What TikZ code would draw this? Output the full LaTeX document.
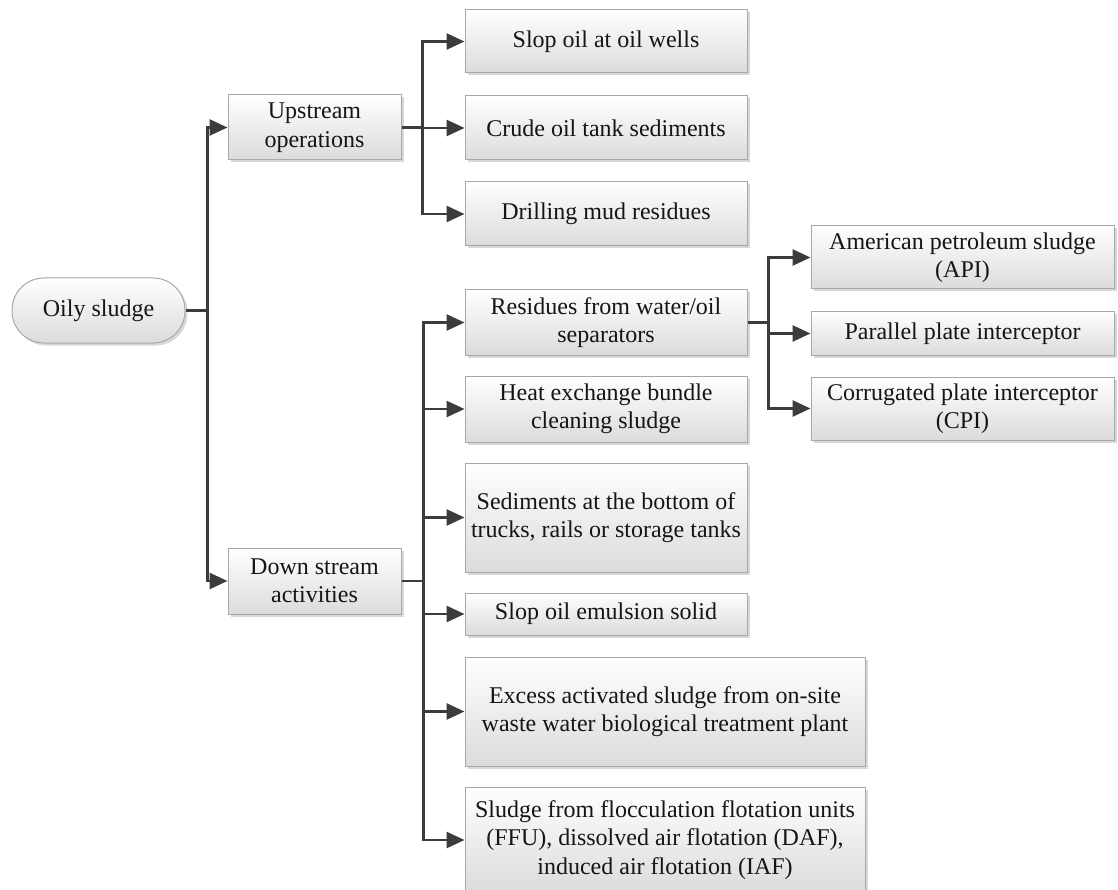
\documentclass[tikz,border=0pt]{standalone}
\usepackage{fontspec}
\setmainfont{Liberation Serif}
\usetikzlibrary{arrows.meta,shadows}
\definecolor{linecol}{HTML}{3C3C3C}
\definecolor{txtcol}{HTML}{151515}
\definecolor{bordercol}{HTML}{A8A8A8}
\tikzset{
  box/.style={draw=bordercol, line width=1pt, top color=white, bottom color=black!14,
    inner sep=0pt, align=center, text=txtcol,
    font=\fontsize{24}{28.5}\selectfont,
    drop shadow={shadow xshift=2.5pt, shadow yshift=-2.5pt, fill=black!30, opacity=0.5}},
  conn/.style={draw=linecol, line width=2.7pt},
  arr/.style={conn, -{Triangle[length=18pt,width=16pt]}},
}
\begin{document}
\begin{tikzpicture}[x=1pt,y=-1pt]
\clip (0,0) rectangle (1118,890);
\fill[white] (0,0) rectangle (1118,890);

% level 0
\node[box, rounded corners=32pt, minimum width=173pt, minimum height=65pt] (oily) at (98.5,310.5) {Oily sludge};

% level 1
\node[box, minimum width=173pt, minimum height=65pt] (up) at (314.5,127.5) {Upstream\\operations};
\node[box, minimum width=173pt, minimum height=66pt] (down) at (314.5,581) {Down stream\\activities};

% upstream children
\node[box, minimum width=282pt, minimum height=63pt] (slop) at (606,41.5) {Slop oil at oil wells};
\node[box, minimum width=282pt, minimum height=64pt] (crude) at (606,128) {Crude oil tank sediments};
\node[box, minimum width=282pt, minimum height=64pt] (drill) at (606,214) {Drilling mud residues};

% downstream children
\node[box, minimum width=282pt, minimum height=65pt] (resid) at (606,322.5) {Residues from water/oil\\separators};
\node[box, minimum width=282pt, minimum height=66pt] (heat) at (606,409) {Heat exchange bundle\\cleaning sludge};
\node[box, minimum width=282pt, minimum height=109pt] (sedi) at (606,517.5) {Sediments at the bottom of\\trucks, rails or storage tanks};
\node[box, minimum width=282pt, minimum height=42pt] (emul) at (606,614) {Slop oil emulsion solid};
\node[box, minimum width=400pt, minimum height=109pt] (excess) at (665,711.5) {Excess activated sludge from on-site\\waste water biological treatment plant};
\node[box, minimum width=400pt, minimum height=106pt] (ffu) at (665,840) {Sludge from flocculation flotation units\\(FFU), dissolved air flotation (DAF),\\induced air flotation (IAF)};

% separator children
\node[box, minimum width=303pt, minimum height=63pt] (api) at (962.5,257.5) {American petroleum sludge\\(API)};
\node[box, minimum width=303pt, minimum height=43pt] (para) at (962.5,333.5) {Parallel plate interceptor};
\node[box, minimum width=303pt, minimum height=63pt] (cpi) at (962.5,408.5) {Corrugated plate interceptor\\(CPI)};

% connectors
\draw[conn] (oily.east) -- ++(22,0) coordinate (j1);
\draw[arr] (j1) |- (up.west);
\draw[arr] (j1) |- (down.west);

\draw[conn] (up.east) -- ++(21,0) coordinate (j2);
\draw[arr] (j2) |- (slop.west);
\draw[arr] (j2) |- (crude.west);
\draw[arr] (j2) |- (drill.west);

\draw[conn] (down.east) -- ++(22,0) coordinate (j3);
\draw[arr] (j3) |- (resid.west);
\draw[arr] (j3) |- (heat.west);
\draw[arr] (j3) |- (sedi.west);
\draw[arr] (j3) |- (emul.west);
\draw[arr] (j3) |- (excess.west);
\draw[arr] (j3) |- (ffu.west);

\draw[conn] (resid.east) -- ++(21,0) coordinate (j4);
\draw[arr] (j4) |- (api.west);
\draw[arr] (j4) |- (para.west);
\draw[arr] (j4) |- (cpi.west);
\end{tikzpicture}
\end{document}
